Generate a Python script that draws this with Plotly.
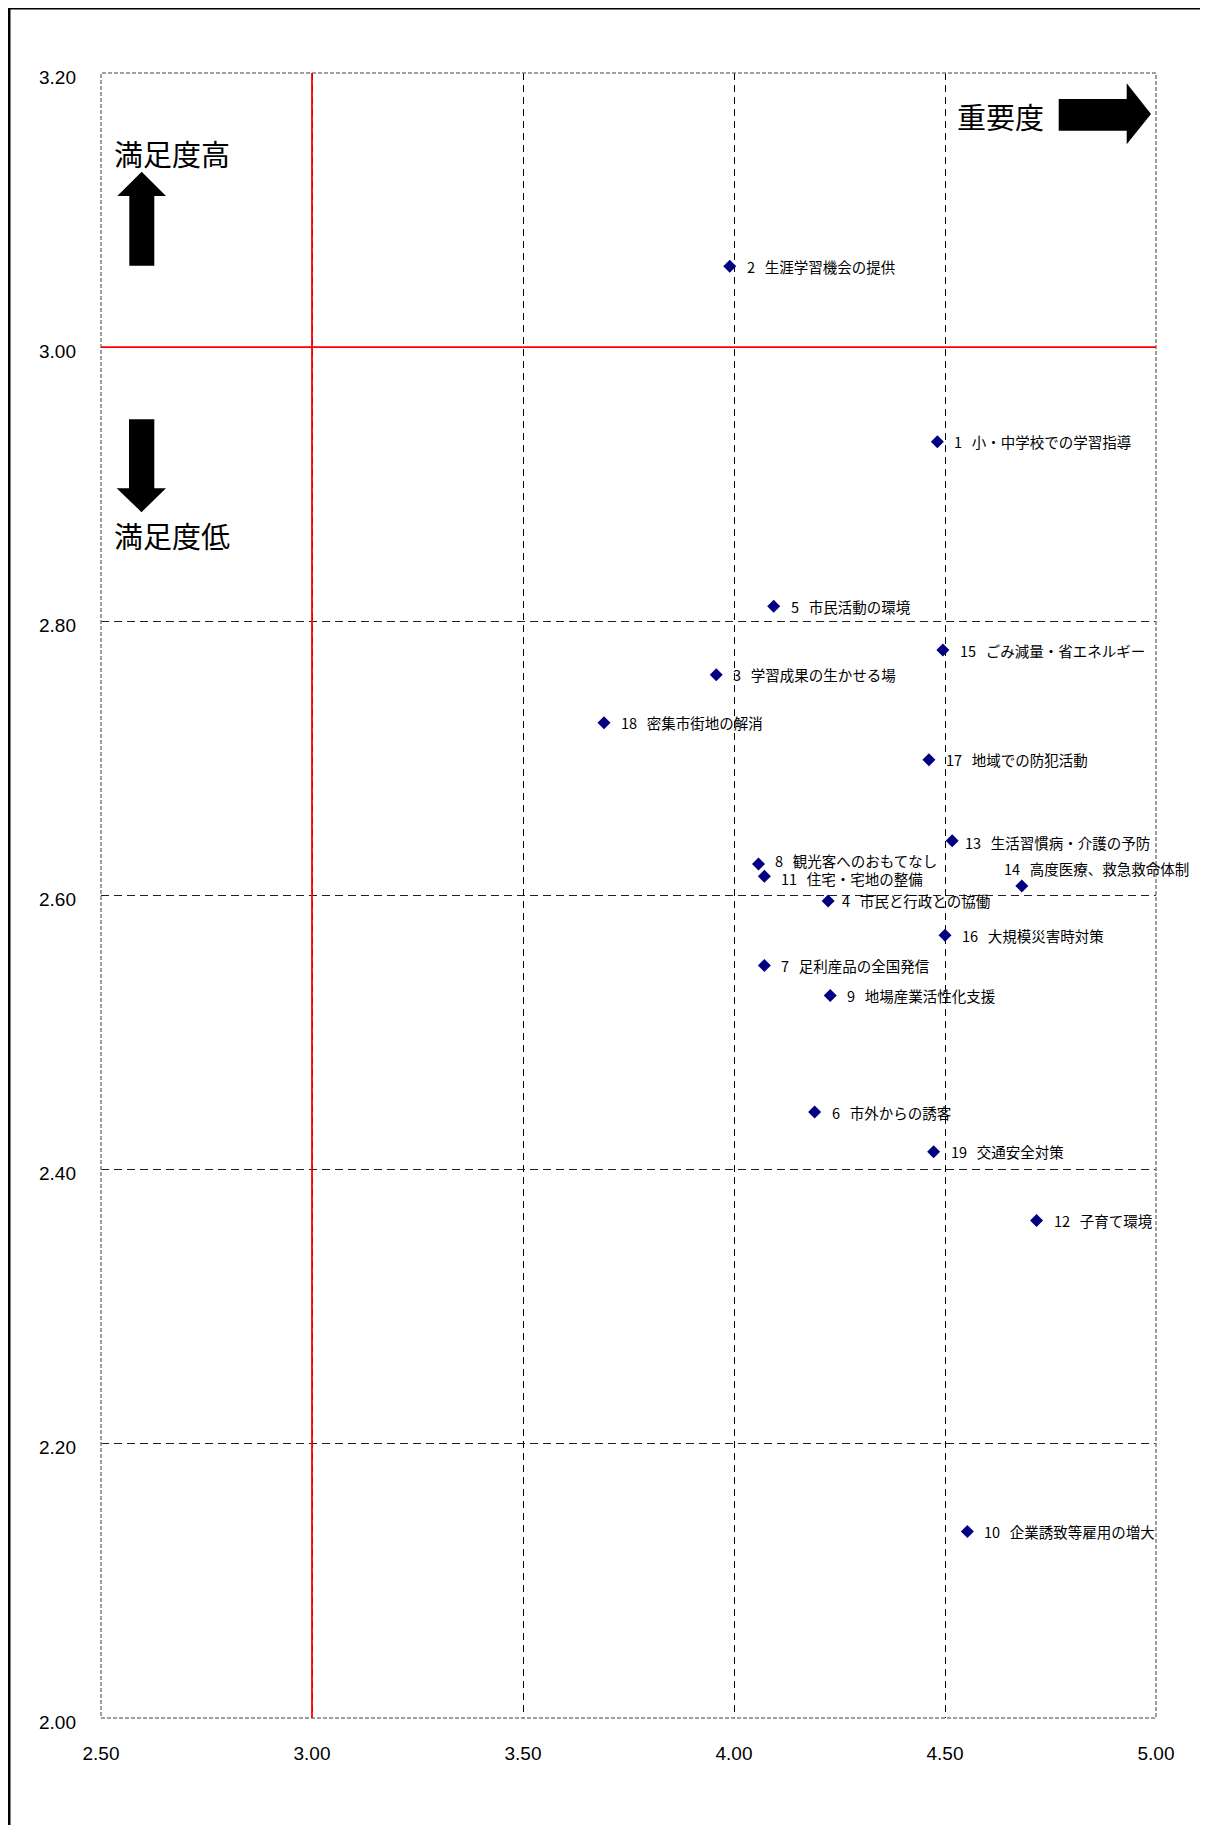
import plotly.graph_objects as go

# ---- data ----
item_no = [1, 2, 3, 4, 5, 6, 7, 8, 9, 10, 11, 12, 13, 14, 15, 16, 17, 18, 19]
item_name = [
    "小・中学校での学習指導", "生涯学習機会の提供", "学習成果の生かせる場", "市民と行政との協働",
    "市民活動の環境", "市外からの誘客", "足利産品の全国発信", "観光客へのおもてなし",
    "地場産業活性化支援", "企業誘致等雇用の増大", "住宅・宅地の整備", "子育て環境",
    "生活習慣病・介護の予防", "高度医療、救急救命体制", "ごみ減量・省エネルギー",
    "大規模災害時対策", "地域での防犯活動", "密集市街地の解消", "交通安全対策",
]
importance = [4.482, 3.990, 3.958, 4.223, 4.094, 4.191, 4.072, 4.058, 4.228, 4.553,
              4.072, 4.717, 4.517, 4.682, 4.495, 4.500, 4.462, 3.692, 4.473]
satisfaction = [2.931, 3.059, 2.761, 2.596, 2.811, 2.442, 2.549, 2.623, 2.527, 2.136,
                2.614, 2.363, 2.640, 2.607, 2.779, 2.571, 2.699, 2.726, 2.413]
x_range = [2.5, 5.0]
y_range = [2.0, 3.2]
x_ticks = [2.5, 3.0, 3.5, 4.0, 4.5, 5.0]
y_ticks = [2.0, 2.2, 2.4, 2.6, 2.8, 3.0, 3.2]
x_ref = 3.0
y_ref = 3.0

# ---- layout geometry (page pixels) ----
PAGE_W, PAGE_H = 1208, 1825
OFF = 8  # browser body margin
W, H = PAGE_W - OFF, PAGE_H - OFF
L, R, T, B = 101, 1156, 73, 1718.5

def px(xp):
    return (xp - L) / (R - L)

def py(yp):
    return (B - yp) / (B - T)

JP = "Noto Sans CJK JP, Noto Sans CJK SC, sans-serif"
NUM = "Liberation Sans, Arial, sans-serif"

fig = go.Figure()
fig.add_trace(go.Scatter(
    x=importance, y=satisfaction, mode="markers",
    marker=dict(symbol="diamond", size=10, color="#000080"),
    hoverinfo="skip", showlegend=False,
))

# label placement offsets (pixels) for special cases
label_shift = {14: (-20, 17), 13: (11, -2), 4: (12, 0), 8: (15, 3), 11: (15, -2)}

annotations = []
for n, name, xv, yv in zip(item_no, item_name, importance, satisfaction):
    dx, dy = label_shift.get(n, (15, 0))
    annotations.append(dict(
        x=xv, y=yv, xref="x", yref="y", text=f"{n}   {name}", showarrow=False,
        xanchor="left", yanchor="middle", xshift=dx, yshift=dy,
        font=dict(family=JP, size=14.5, color="#000000"),
    ))

big = dict(family=JP, size=29, color="#000000")
annotations += [
    dict(x=px(112), y=py(153), xref="paper", yref="paper", text="満足度高", showarrow=False,
         xanchor="left", yanchor="middle", font=big),
    dict(x=px(112), y=py(535), xref="paper", yref="paper", text="満足度低", showarrow=False,
         xanchor="left", yanchor="middle", font=big),
    dict(x=px(955), y=py(116), xref="paper", yref="paper", text="重要度", showarrow=False,
         xanchor="left", yanchor="middle", font=big),
]

def poly(points):
    return "M " + " L ".join(f"{px(a):.5f},{py(b):.5f}" for a, b in points) + " Z"

up_arrow = [(141.7, 171.7), (166, 196), (154.3, 196), (154.3, 265.7),
            (129.3, 265.7), (129.3, 196), (117.3, 196)]
down_arrow = [(141.5, 512.3), (166, 488.3), (154.3, 488.3), (154.3, 419.3),
              (129.0, 419.3), (129.0, 488.3), (116.7, 488.3)]
right_arrow = [(1151, 114), (1126.7, 144.3), (1126.7, 130.7), (1058.7, 130.7),
               (1058.7, 99), (1126.7, 99), (1126.7, 83.3)]

shapes = []
for pts in (up_arrow, down_arrow, right_arrow):
    shapes.append(dict(type="path", path=poly(pts), xref="paper", yref="paper",
                       fillcolor="#000000", line=dict(width=0)))

# plot border (dashed gray)
shapes.append(dict(type="rect", xref="paper", yref="paper", x0=0, y0=0, x1=1, y1=1,
                   line=dict(color="#808080", width=1.5, dash="4px,2px"), layer="above"))
# reference red lines
shapes.append(dict(type="line", xref="x", yref="paper", x0=x_ref, x1=x_ref, y0=0, y1=1,
                   line=dict(color="#FF0000", width=1.8), layer="above"))
shapes.append(dict(type="line", xref="paper", yref="y", x0=0, x1=1, y0=y_ref, y1=y_ref,
                   line=dict(color="#FF0000", width=1.8), layer="above"))
# outer frame
shapes.append(dict(type="rect", xref="paper", yref="paper",
                   x0=px(9), y0=py(1900), x1=px(1260), y1=py(8),
                   line=dict(color="#000000", width=3)))

fig.update_layout(
    width=W, height=H,
    margin=dict(l=L - OFF, r=PAGE_W - R, t=T - OFF, b=PAGE_H - B, pad=0),
    paper_bgcolor="#FFFFFF", plot_bgcolor="#FFFFFF",
    showlegend=False,
    annotations=annotations, shapes=shapes,
    xaxis=dict(range=x_range, tickvals=x_ticks, ticktext=[f"{v:.2f}" for v in x_ticks],
               showgrid=True, gridcolor="#000000", gridwidth=1, griddash="7px,5px",
               zeroline=False, showline=False, ticks="",
               tickfont=dict(family=NUM, size=19, color="#000000"),
               ticklabelstandoff=22),
    yaxis=dict(range=y_range, tickvals=y_ticks, ticktext=[f"{v:.2f}" for v in y_ticks],
               showgrid=True, gridcolor="#202020", gridwidth=1, griddash="8px,5px",
               zeroline=False, showline=False, ticks="",
               tickfont=dict(family=NUM, size=19, color="#000000"),
               ticklabelstandoff=24, ticklabelshift=4),
)

fig.write_html("out.html")
